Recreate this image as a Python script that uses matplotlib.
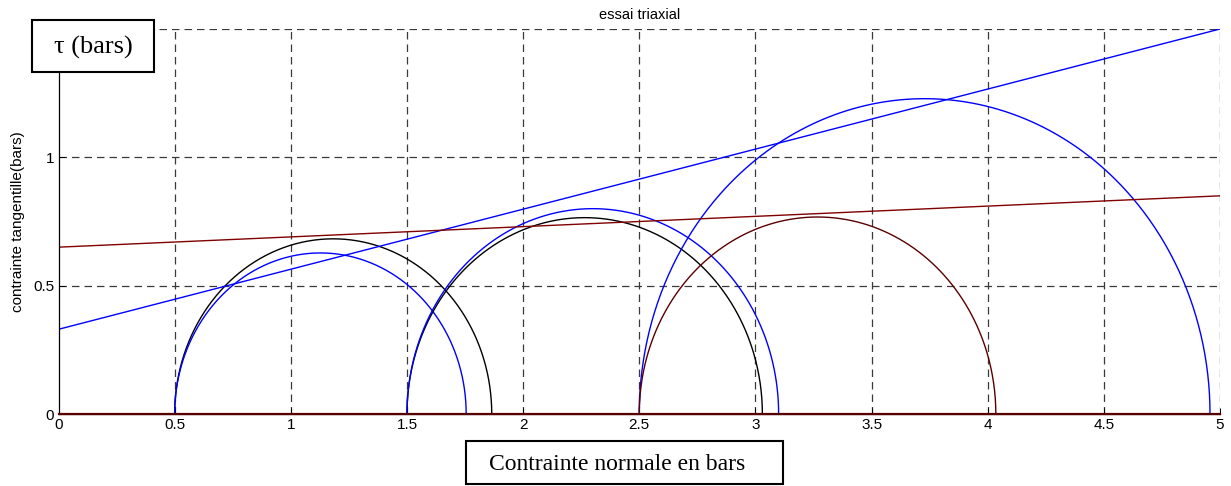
import numpy as np
import matplotlib
matplotlib.use("Agg")
import matplotlib.pyplot as plt
from matplotlib.patches import Rectangle

# Mohr circles: (sigma3, sigma1, colour)
sigma3 = [0.5, 0.5, 1.5, 1.5, 2.5, 2.5]
sigma1 = [1.865, 1.755, 3.03, 3.10, 4.957, 4.035]
circle_colors = ["#000000", "#0000ff", "#000000", "#0000ff", "#0000ff", "#5a0000"]

# Envelope lines: intercept (cohesion) and slope (tan phi)
env_c = [0.33, 0.65]
env_tan = [0.234, 0.040]
env_colors = ["#0000ff", "#800000"]

xticks = [0, 0.5, 1, 1.5, 2, 2.5, 3, 3.5, 4, 4.5, 5]
xticklabels = ["0", "0.5", "1", "1.5", "2", "2.5", "3", "3.5", "4", "4.5", "5"]
yticks = [0, 0.5, 1]
yticklabels = ["0", "0.5", "1"]

W, H = 1231, 486
fig = plt.figure(figsize=(W / 100, H / 100), dpi=100)
ax = fig.add_axes([58.5 / W, 1 - 414 / H, (1220 - 58.5) / W, (414 - 29) / H])
ax.set_xlim(0, 5)
ax.set_ylim(0, 1.5)

grid_kw = dict(color="#3a3a3a", linestyle=(0, (6, 4)), linewidth=0.9, zorder=0.5)
for x in xticks[1:]:
    ax.axvline(x, **grid_kw)
for y in [0.5, 1.0, 1.5]:
    ax.axhline(y, **grid_kw)

theta = np.linspace(0, np.pi, 400)
for s3, s1, col in zip(sigma3, sigma1, circle_colors):
    c = (s1 + s3) / 2
    r = (s1 - s3) / 2
    ax.plot(c + r * np.cos(theta), r * np.sin(theta), color=col, linewidth=1.0, zorder=2)

xs = np.array([0, 5])
for cc, t, col in zip(env_c, env_tan, env_colors):
    ax.plot(xs, cc + t * xs, color=col, linewidth=1.0, zorder=2)

ax.plot([0, 5], [0, 0], color="#5a0000", linewidth=1.6, zorder=3, clip_on=False)

for s in ["top", "right"]:
    ax.spines[s].set_visible(False)
ax.spines["left"].set_linewidth(0.9)
ax.spines["bottom"].set_linewidth(0.9)

ax.set_xticks(xticks)
ax.set_xticklabels(xticklabels)
ax.set_yticks(yticks)
ax.set_yticklabels(yticklabels)
ax.tick_params(direction="in", length=4, labelsize=11, width=0.7, pad=3)
for lab in ax.get_xticklabels() + ax.get_yticklabels():
    lab.set_fontfamily("Liberation Sans")

ax.set_title("essai triaxial", fontsize=10.5, family="Liberation Sans", pad=7)
ax.set_ylabel("contrainte tangentille(bars)", fontsize=11, family="Liberation Sans", labelpad=6)

# annotation boxes (pixel geometry from reference)
def box(x0, y0, x1, y1):
    fig.patches.append(Rectangle((x0 / W, 1 - y1 / H), (x1 - x0) / W, (y1 - y0) / H,
                                 transform=fig.transFigure, facecolor="white",
                                 edgecolor="black", linewidth=1.5, zorder=5))

box(32, 20, 154, 72)
fig.text(93 / W, 1 - 47 / H, "τ (bars)", ha="center", va="center",
         fontsize=19, family="Liberation Serif", zorder=6)
box(466, 441, 783, 484)
fig.text(617 / W, 1 - 464 / H, "Contrainte normale en bars", ha="center", va="center",
         fontsize=17, family="Liberation Serif", zorder=6)

fig.savefig("out.png", dpi=100)
